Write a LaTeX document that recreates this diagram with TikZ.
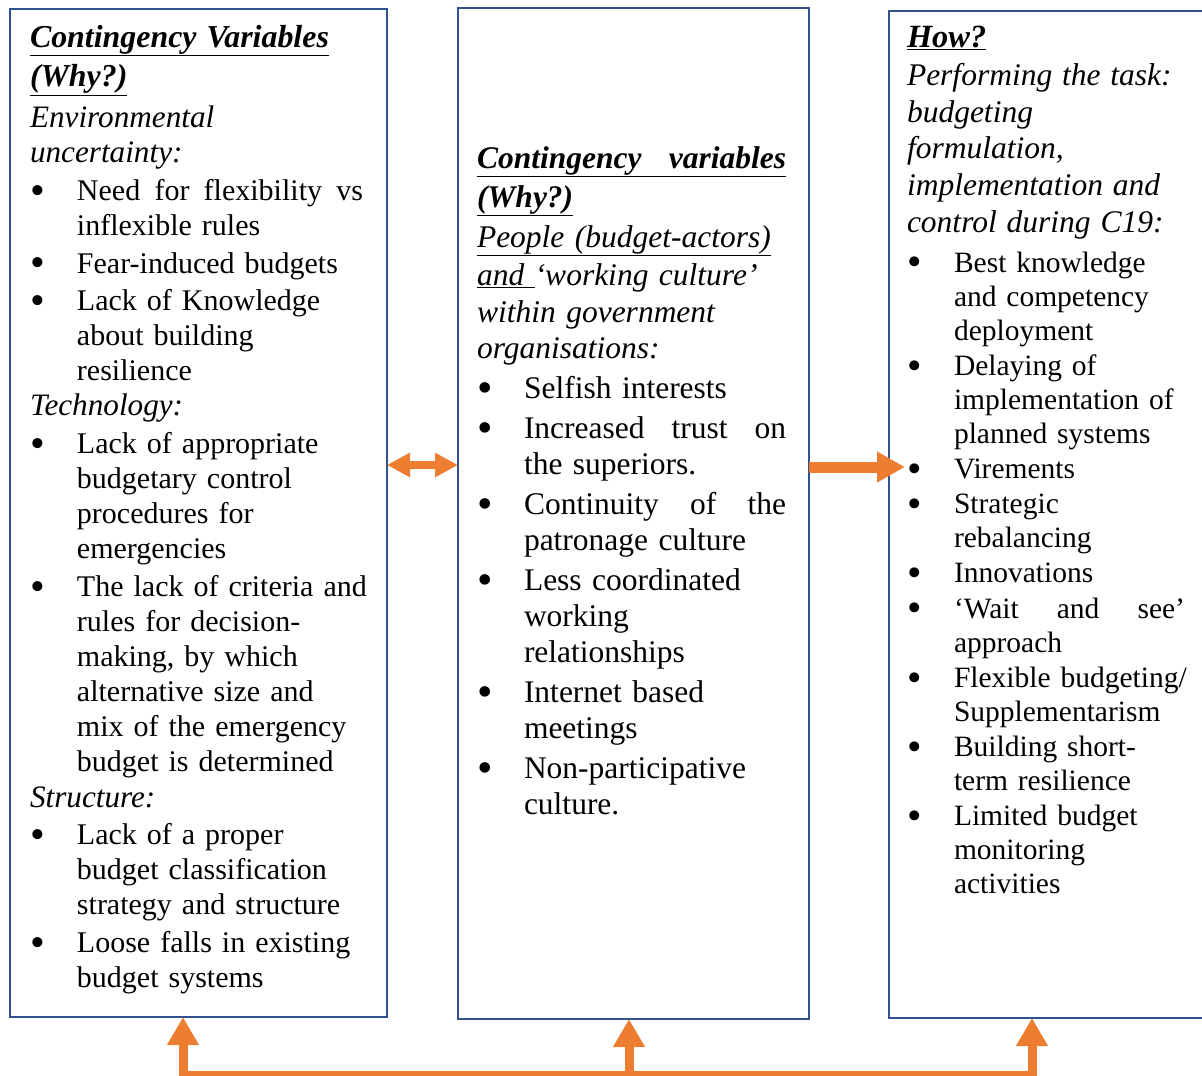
\documentclass[tikz,border=0pt]{standalone}
\usepackage{fontspec}
\setmainfont{Liberation Serif}
\usepackage{tikz}
\usetikzlibrary{positioning, arrows.meta}

\definecolor{boxblue}{RGB}{47,82,143}
\definecolor{flow}{RGB}{237,125,49}

\newlength{\itemgap}
\newlength{\itw}
\def\hdsize{32}
\def\hisize{31.5}
\newcommand{\hd}[1]{\underline{{\fontsize{\hdsize}{\hdsize}\selectfont\bfseries\itshape #1}}}
\newcommand{\hi}[1]{{\fontsize{\hisize}{\hisize}\selectfont\itshape #1}}
\newcommand{\jl}[1]{\hbox to \itw{#1}}
\newcommand{\bdot}{\raisebox{-0.13em}{\scalebox{1.4}{\textbullet}}}
\newcommand{\bul}[1]{\par\vspace{\itemgap}\noindent\hangindent=47pt\hangafter=1
  \makebox[47pt][l]{\bdot}{\let\\\newline#1}\par}

\begin{document}
\begin{tikzpicture}[
    x=1pt, y=-1pt,
    panel/.style={rectangle, draw=boxblue, line width=2pt, anchor=north west,
                  inner sep=0pt, outer sep=0pt},
    txt/.style={anchor=north west, inner sep=0pt, outer sep=0pt},
    biarrow/.style={{Triangle[width=23pt, length=23pt]}-{Triangle[width=23pt, length=23pt]},
                  draw=flow, line width=8pt},
    arrow/.style={-{Triangle[width=29pt, length=28pt]}, draw=flow, line width=11pt},
    bus/.style={{Triangle[width=30pt, length=28pt]}-{Triangle[width=30pt, length=28pt]},
                  draw=flow, line width=9pt},
    busup/.style={-{Triangle[width=30pt, length=28pt]}, draw=flow, line width=9pt}
]
    \useasboundingbox (0,0) rectangle (1202,1076);

    % Panels
    \node[panel, minimum width=377pt, minimum height=1008pt] (left) at (10,9) {};
    \node[panel, minimum width=351pt, minimum height=1011pt] (mid) at (458,8) {};
    \node[panel, minimum width=340pt, minimum height=1007pt] (right) at (889,11) {};

    % Left text
    \node[txt, text width=333pt, font={\fontsize{30}{35.1}\selectfont}] (lefttxt) at (30,22) {%
      \setlength{\itemgap}{2.5pt}\setlength{\itw}{\dimexpr\linewidth-47pt\relax}%
      \def\hdsize{31.9}\def\hisize{31.2}%
      \rightskip=-80pt\noindent
      \rule{0pt}{25pt}\hd{Contingency Variables}\\[4.7pt]
      \hd{(Why?)}\\[5.7pt]
      \hi{Environmental}\\
      \hi{uncertainty:}
      \bul{\jl{Need\hfill for\hfill flexibility\hfill vs}\\ inflexible rules}
      \bul{Fear-induced budgets}
      \bul{Lack of Knowledge\\ about building\\ resilience}
      \noindent\hi{Technology:}
      \bul{Lack of appropriate\\ budgetary control\\ procedures for\\ emergencies}
      \bul{The lack of criteria and\\ rules for decision-\\ making, by which\\ alternative size and\\ mix of the emergency\\ budget is determined}
      \noindent\hi{Structure:}
      \bul{Lack of a proper\\ budget classification\\ strategy and structure}
      \bul{Loose falls in existing\\ budget systems}};

    % Middle text
    \node[txt, text width=309pt, font={\fontsize{31.5}{36}\selectfont}] (midtxt) at (477,143) {%
      \setlength{\itemgap}{4pt}\setlength{\itw}{\dimexpr\linewidth-47pt\relax}%
      \def\hdsize{31.5}\def\hisize{31.5}%
      \rightskip=-80pt\noindent
      \rule{0pt}{25pt}\underline{\hbox to \linewidth{\bfseries\itshape Contingency\hfill variables}}\\[3pt]
      \hd{(Why?)}\\[4pt]
      \hi{\underline{People (budget-actors)}}\\[2pt]
      \hi{\underline{and\ }`working culture'}\\[1pt]
      \hi{within government}\\
      \hi{organisations:}
      \bul{Selfish interests}
      \bul{\jl{Increased\hfill trust\hfill on}\\ the superiors.}
      \bul{\jl{Continuity\hfill of\hfill the}\\ patronage culture}
      \bul{Less coordinated\\ working\\ relationships}
      \bul{Internet based\\ meetings}
      \bul{Non-participative\\ culture.}};

    % Right text
    \node[txt, text width=278pt, font={\fontsize{29.5}{34}\selectfont}] (righttxt) at (907,22) {%
      \setlength{\itemgap}{1.2pt}\setlength{\itw}{\dimexpr\linewidth-47pt\relax}%
      \def\hdsize{32.4}\def\hisize{31.5}%
      \rightskip=-80pt\noindent
      \rule{0pt}{25pt}\hd{How?}\\[4pt]
      \hi{Performing the task:}\\[3pt]
      \hi{budgeting}\\[2pt]
      \hi{formulation,}\\[3pt]
      \hi{implementation and}\\[3pt]
      \hi{control during C19:}\par\vspace{4.8pt}
      \bul{Best knowledge\\ and competency\\ deployment}
      \bul{Delaying of\\ implementation of\\ planned systems}
      \bul{Virements}
      \bul{Strategic\\ rebalancing}
      \bul{Innovations}
      \bul{\jl{`Wait\hfill and\hfill see'}\\ approach}
      \bul{Flexible budgeting/\\ Supplementarism}
      \bul{Building short-\\ term resilience}
      \bul{Limited budget\\ monitoring\\ activities}};

    % Arrows between panels
    \coordinate (row) at (0,465);
    \coordinate (vir) at (905,467);
    \draw[biarrow] (left.east |- row) -- (mid.west |- row);
    \draw[arrow] (mid.east |- vir) -- (vir);

    % Feedback bus under the panels
    \coordinate (busL) at (183,1075);
    \coordinate (busM) at (629,1075);
    \coordinate (busR) at (1032,1075);
    \draw[bus] (busL |- left.south) -- (busL) -- (busR) -- (busR |- right.south);
    \draw[busup] (busM) -- (busM |- mid.south);

\end{tikzpicture}
\end{document}
